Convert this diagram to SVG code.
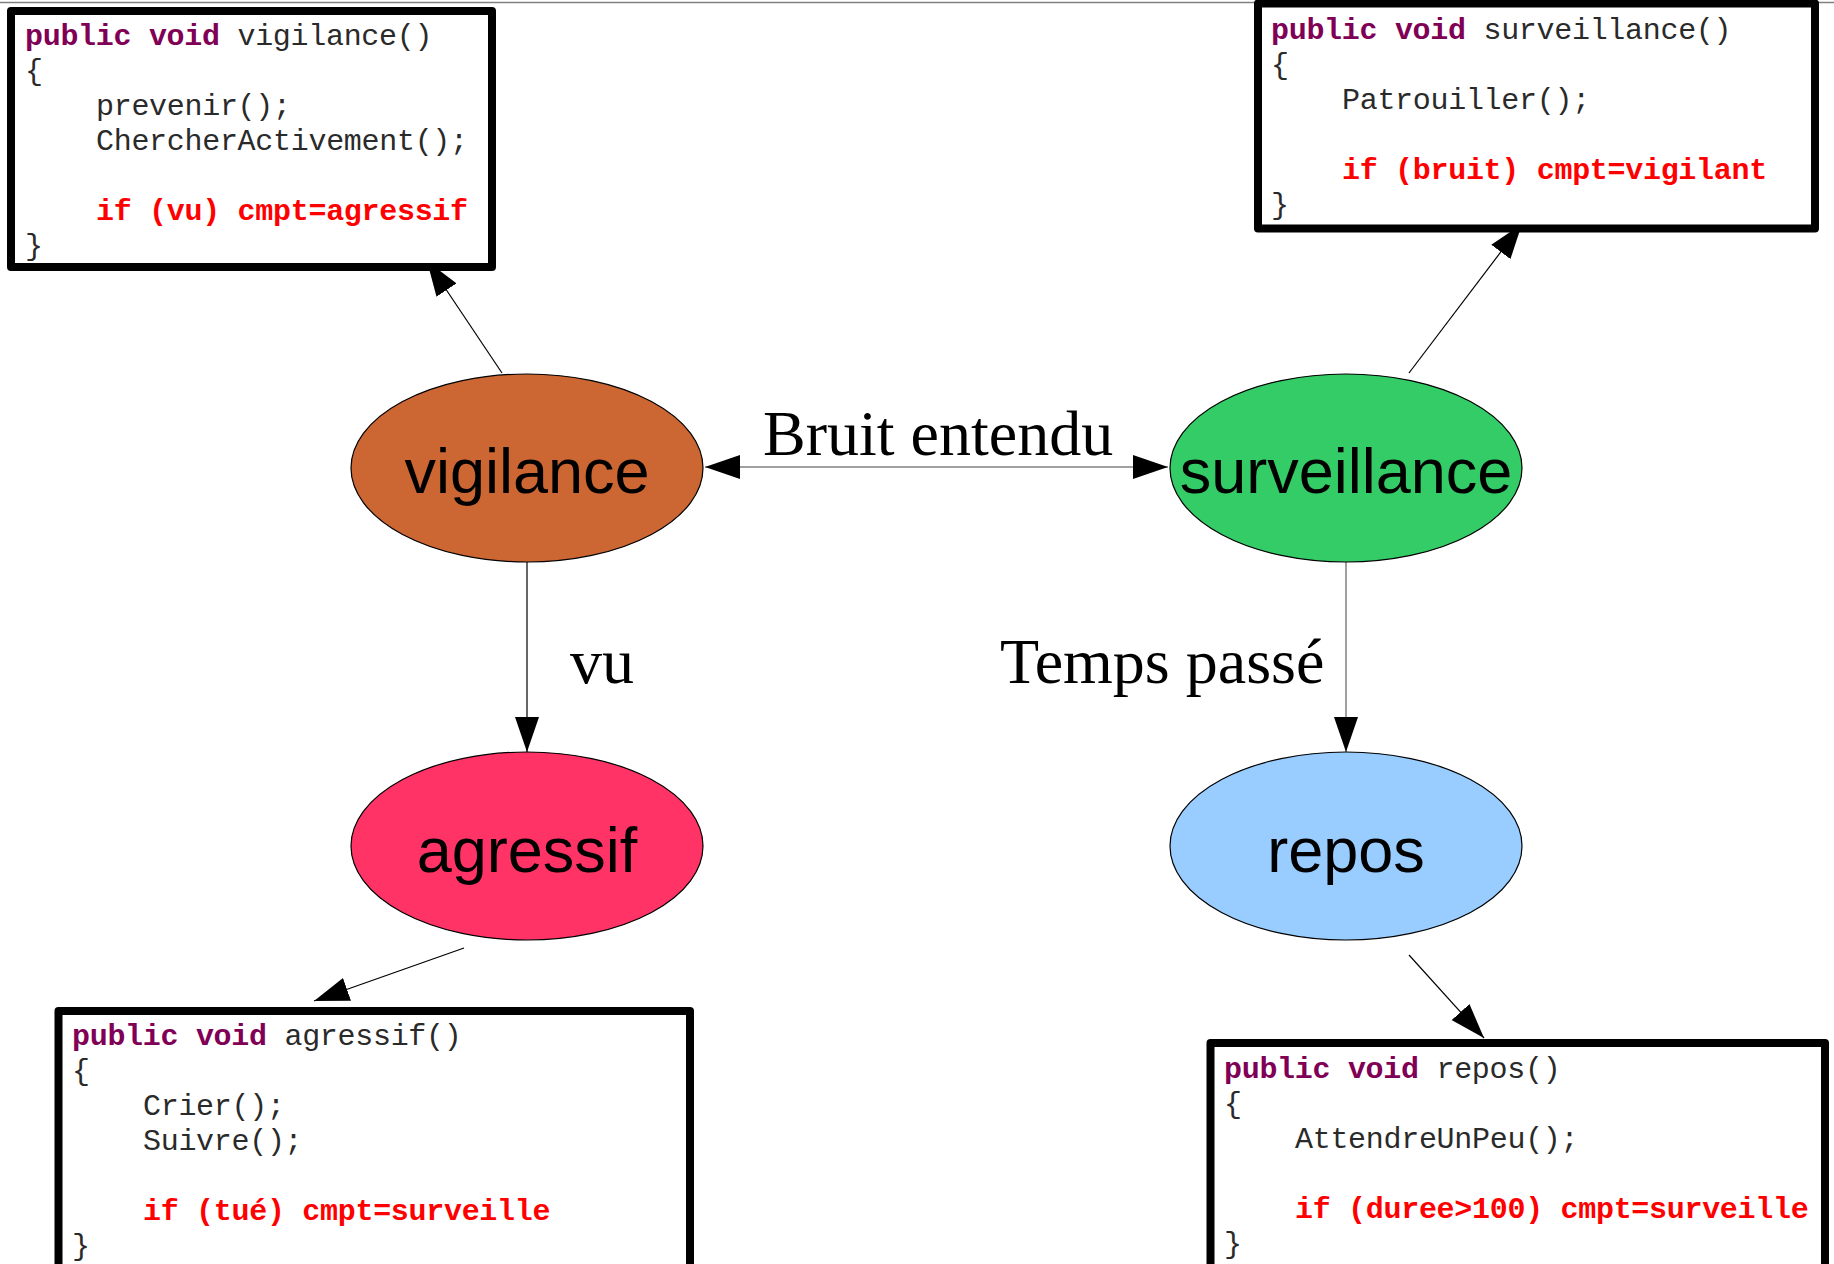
<svg xmlns="http://www.w3.org/2000/svg" width="1834" height="1264" viewBox="0 0 1834 1264">
  <style>
    .state { stroke: #000; stroke-width: 1.2; }
    .state-label { font-family: "Liberation Sans", Arial, sans-serif; font-size: 63px; fill: #000; text-anchor: middle; }
    .edge-label { font-family: "Liberation Serif", "Times New Roman", serif; font-size: 64px; fill: #000; }
    .codebox { fill: #fff; stroke: #000; stroke-width: 8; stroke-linejoin: round; }
    .code { font-family: "Liberation Mono", "Courier New", monospace; font-size: 30px; letter-spacing: -0.3px; fill: #2a2a2a; white-space: pre; }
    .kw { font-weight: bold; fill: #7f0055; }
    .cond { font-weight: bold; fill: #ff0000; }
    .conn { fill: none; stroke: #000; stroke-width: 1.2; }
    .conn-grey { fill: none; stroke: #808080; stroke-width: 1.5; }
  </style>
  <defs>
    <marker id="arrow" viewBox="0 0 35 24" refX="35" refY="12" markerWidth="35" markerHeight="24" markerUnits="userSpaceOnUse" orient="auto-start-reverse">
      <path d="M0,0 L35,12 L0,24 Z" fill="#000"/>
    </marker>
  </defs>

  <line x1="0" y1="2.5" x2="1834" y2="2.5" stroke="#808080" stroke-width="1.5"/>

  <g id="connectors">
    <line class="conn" x1="502" y1="373" x2="427" y2="261" marker-end="url(#arrow)"/>
    <line class="conn" x1="1409" y1="373" x2="1522" y2="224" marker-end="url(#arrow)"/>
    <line class="conn" x1="464" y1="948" x2="314" y2="1001" marker-end="url(#arrow)"/>
    <line class="conn" x1="1409" y1="955" x2="1484" y2="1038" marker-end="url(#arrow)"/>
    <line class="conn-grey" x1="705" y1="467" x2="1168" y2="467" marker-start="url(#arrow)" marker-end="url(#arrow)"/>
    <line class="conn" x1="527" y1="562" x2="527" y2="752" marker-end="url(#arrow)"/>
    <line class="conn-grey" x1="1346" y1="562" x2="1346" y2="752" marker-end="url(#arrow)"/>
    <text class="edge-label" x="763" y="455">Bruit entendu</text>
    <text class="edge-label" x="570" y="683">vu</text>
    <text class="edge-label" x="1000" y="683">Temps passé</text>
  </g>

  <g id="node-vigilance">
    <ellipse class="state" cx="527" cy="468" rx="176" ry="94" fill="#cc6633"/>
    <text class="state-label" x="527" y="493">vigilance</text>
  </g>
  <g id="node-surveillance">
    <ellipse class="state" cx="1346" cy="468" rx="176" ry="94" fill="#33cc66"/>
    <text class="state-label" x="1346" y="493">surveillance</text>
  </g>
  <g id="node-agressif">
    <ellipse class="state" cx="527" cy="846" rx="176" ry="94" fill="#ff3366"/>
    <text class="state-label" x="527" y="872">agressif</text>
  </g>
  <g id="node-repos">
    <ellipse class="state" cx="1346" cy="846" rx="176" ry="94" fill="#99ccff"/>
    <text class="state-label" x="1346" y="872">repos</text>
  </g>

  <g id="code-vigilance">
    <rect class="codebox" x="11" y="11" width="481" height="256"/>
    <text class="code" x="25" y="45"><tspan class="kw">public void</tspan> vigilance()</text>
    <text class="code" x="25" y="80">{</text>
    <text class="code" x="96" y="115">prevenir();</text>
    <text class="code" x="96" y="150">ChercherActivement();</text>
    <text class="code cond" x="96" y="220">if (vu) cmpt=agressif</text>
    <text class="code" x="25" y="255">}</text>
  </g>

  <g id="code-surveillance">
    <rect class="codebox" x="1258" y="3.5" width="557" height="225"/>
    <text class="code" x="1271" y="39"><tspan class="kw">public void</tspan> surveillance()</text>
    <text class="code" x="1271" y="74">{</text>
    <text class="code" x="1342" y="109">Patrouiller();</text>
    <text class="code cond" x="1342" y="179">if (bruit) cmpt=vigilant</text>
    <text class="code" x="1271" y="214">}</text>
  </g>

  <g id="code-agressif">
    <rect class="codebox" x="58.5" y="1011" width="631.5" height="300"/>
    <text class="code" x="72" y="1045"><tspan class="kw">public void</tspan> agressif()</text>
    <text class="code" x="72" y="1080">{</text>
    <text class="code" x="143" y="1115">Crier();</text>
    <text class="code" x="143" y="1150">Suivre();</text>
    <text class="code cond" x="143" y="1220">if (tué) cmpt=surveille</text>
    <text class="code" x="72" y="1255">}</text>
  </g>

  <g id="code-repos">
    <rect class="codebox" x="1210.5" y="1043" width="614.5" height="300"/>
    <text class="code" x="1224" y="1078"><tspan class="kw">public void</tspan> repos()</text>
    <text class="code" x="1224" y="1113">{</text>
    <text class="code" x="1295" y="1148">AttendreUnPeu();</text>
    <text class="code cond" x="1295" y="1218">if (duree&gt;100) cmpt=surveille</text>
    <text class="code" x="1224" y="1253">}</text>
  </g>
</svg>
